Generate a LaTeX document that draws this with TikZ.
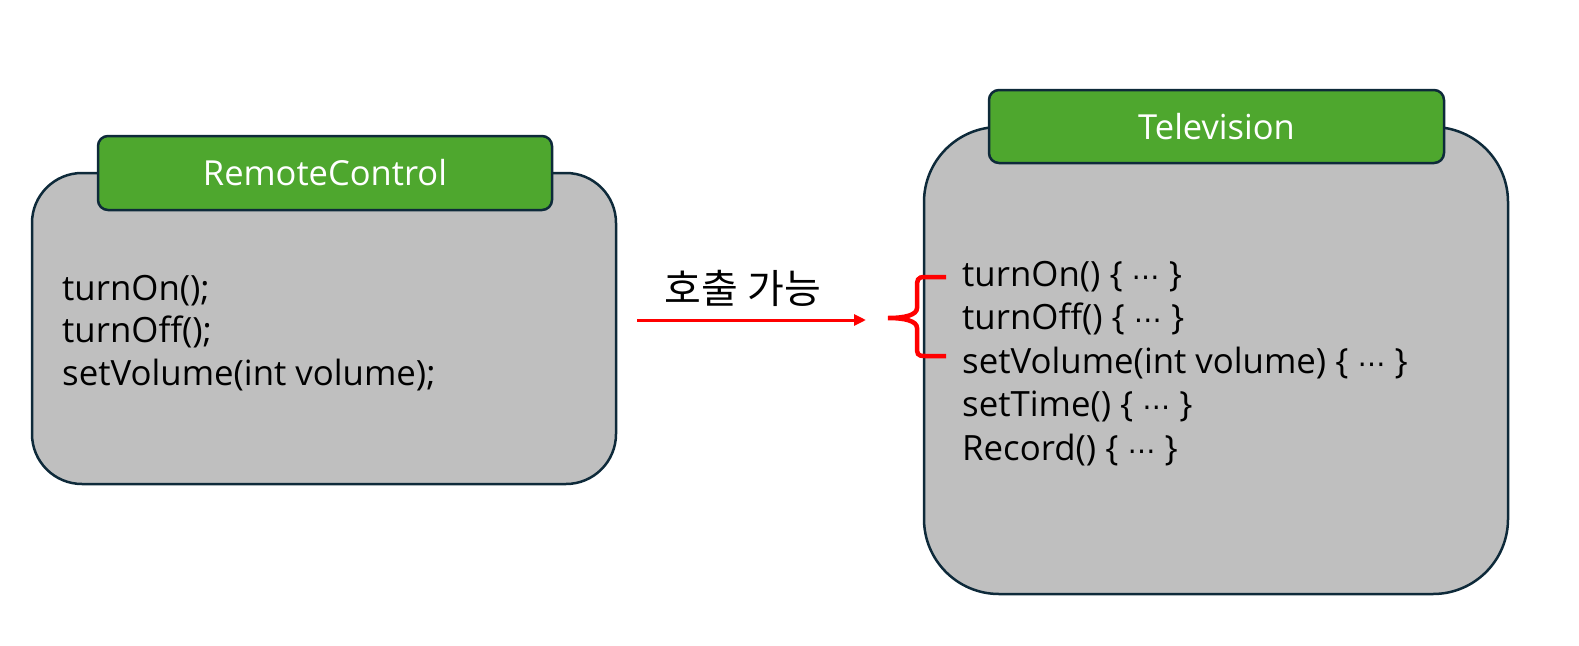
\documentclass[tikz,border=0pt]{standalone}
\usepackage{fontspec}
\setmainfont{Open Sans}
\newfontfamily\kofont{Noto Sans CJK KR}
\newfontfamily\dotfont{DejaVu Sans}
\newcommand{\mydots}{{\dotfont\fontsize{28}{30}\selectfont ⋯}}
\usetikzlibrary{arrows.meta}
\definecolor{edge}{HTML}{0E2A3A}
\definecolor{boxgray}{HTML}{BFBFBF}
\definecolor{tabgreen}{HTML}{4EA72E}
\definecolor{arrowred}{HTML}{FF0000}
\tikzset{
  graybox/.style={draw=edge, fill=boxgray, line width=2.5pt, inner sep=0pt},
  tabbox/.style={draw=edge, fill=tabgreen, line width=2.5pt, rounded corners=10pt, inner sep=0pt,
    text=white, font=\fontsize{34.5}{40}\selectfont},
  body/.style={inner sep=0pt, anchor=base west, align=left, text=black},
  redline/.style={draw=arrowred, line width=3pt},
}
\begin{document}
\begin{tikzpicture}[x=1pt,y=-1pt]
\useasboundingbox (0,0) rectangle (1579,645);
% Remote control
\node[graybox, rounded corners=50pt, minimum width=584pt, minimum height=311pt] (rcbox) at (324,328.5) {};
\node[tabbox, minimum width=454pt, minimum height=74pt] (rctab) at (325,173) {RemoteControl};
\node[body, font=\fontsize{34.8}{42.5}\selectfont] (rctext) at (62,385)
  {turnOn();\\turnOff();\\setVolume(int volume);};
% Television
\node[graybox, rounded corners=75pt, minimum width=584pt, minimum height=467pt] (tvbox) at (1216,360.5) {};
\node[tabbox, minimum width=455pt, minimum height=73pt] (tvtab) at (1216.5,126.5) {Television};
\node[body, font=\fontsize{34.8}{43.5}\selectfont] (tvtext) at (962,460)
  {turnOn() \{ \mydots\ \}\\turnOff() \{ \mydots\ \}\\setVolume(int volume) \{ \mydots\ \}\\setTime() \{ \mydots\ \}\\Record() \{ \mydots\ \}};
% arrow
\coordinate (a1) at (637,320);
\coordinate (a2) at (866,320);
\draw[redline, -{Triangle[length=12pt,width=11pt]}] (a1) -- (a2);
\node[font=\kofont\fontsize{40}{44}\selectfont] (lbl) at (743,288) {호출 가능};
% brace
\coordinate (bt) at (946,277);
\coordinate (bb) at (946,356);
\coordinate (btip) at (888,318);
\draw[redline, line width=4.5pt]
  (bt) -- (925,277) .. controls (917,277) and (917,280) .. (917,288)
  -- (917,308) .. controls (917,315) and (905,318) .. (btip)
  .. controls (905,318) and (917,321) .. (917,328)
  -- (917,346) .. controls (917,354) and (917,356) .. (925,356) -- (bb);
\end{tikzpicture}
\end{document}
